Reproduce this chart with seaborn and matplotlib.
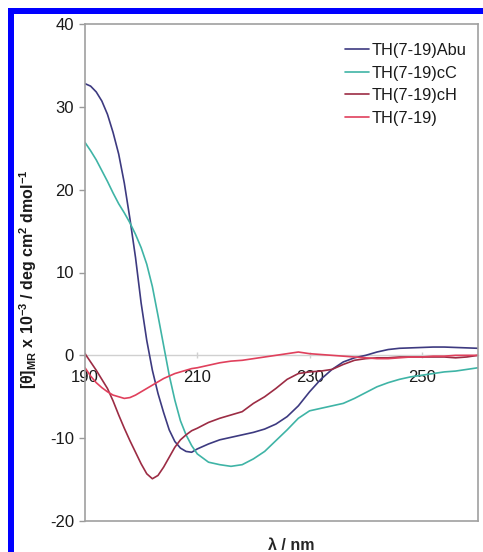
import matplotlib
matplotlib.use("Agg")
import matplotlib.pyplot as plt
import seaborn as sns
import pandas as pd
from matplotlib.patches import Rectangle

# ---- data ----
wavelength = [190, 191, 192, 193, 194, 195, 196, 197, 198, 199, 200, 201, 202, 203, 204, 205, 206, 207,
              208, 209, 210, 212, 214, 216, 218, 220, 222, 224, 226, 228, 230, 232, 234,
              236, 238, 240, 242, 244, 246, 248, 250, 252, 254, 256, 258, 260]

abu = [32.8, 32.5, 31.8, 30.7, 29.1, 26.9, 24.3, 20.8, 16.5, 11.8, 6.3, 1.8, -1.8, -4.6, -6.9, -9.0, -10.4, -11.2,
       -11.6, -11.7, -11.3, -10.7, -10.2, -9.9, -9.6, -9.3, -8.9, -8.3, -7.4, -6.1, -4.4, -2.9, -1.7,
       -0.8, -0.3, 0.0, 0.4, 0.7, 0.85, 0.9, 0.95, 1.0, 1.0, 0.95, 0.9, 0.85]

cc = [25.7, 24.7, 23.6, 22.3, 21.0, 19.6, 18.3, 17.2, 16.0, 14.6, 13.0, 11.0, 8.3, 4.8, 1.2, -2.4, -5.4, -7.9,
      -9.6, -10.9, -11.9, -12.9, -13.2, -13.4, -13.2, -12.5, -11.6, -10.3, -9.0, -7.6, -6.7, -6.4, -6.1,
      -5.8, -5.2, -4.5, -3.8, -3.3, -2.9, -2.6, -2.4, -2.2, -2.0, -1.9, -1.7, -1.5]

ch = [0.2, -0.8, -1.8, -2.9, -4.0, -5.5, -7.2, -8.8, -10.3, -11.7, -13.1, -14.3, -14.9, -14.5, -13.5, -12.3, -11.1, -10.2,
      -9.6, -9.1, -8.8, -8.1, -7.6, -7.2, -6.8, -5.8, -5.0, -4.0, -2.9, -2.2, -2.0, -1.9, -1.7,
      -1.1, -0.6, -0.4, -0.3, -0.3, -0.2, -0.2, -0.2, -0.2, -0.2, -0.3, -0.2, 0.0]

th = [-1.5, -2.5, -3.3, -3.9, -4.4, -4.8, -5.0, -5.2, -5.1, -4.8, -4.4, -4.0, -3.6, -3.2, -2.8, -2.5, -2.2, -2.0,
      -1.8, -1.6, -1.5, -1.2, -0.9, -0.7, -0.6, -0.4, -0.2, 0.0, 0.2, 0.4, 0.2, 0.1, 0.0,
      -0.1, -0.2, -0.3, -0.4, -0.4, -0.3, -0.2, -0.2, -0.1, -0.1, 0.0, 0.0, 0.0]

series_names = ["TH(7-19)Abu", "TH(7-19)cC", "TH(7-19)cH", "TH(7-19)"]
series_values = [abu, cc, ch, th]
colors = ["#3d3a80", "#3fb4a6", "#9c2c44", "#e0405c"]

x_ticks = [190, 210, 230, 250]
y_ticks = [-20, -10, 0, 10, 20, 30, 40]

rows = []
for name, vals in zip(series_names, series_values):
    for w, v in zip(wavelength, vals):
        rows.append({"wl": w, "val": v, "series": name})
df = pd.DataFrame(rows)

# ---- figure ----
sns.set_style("white")
plt.rcParams["font.family"] = ["Liberation Sans", "DejaVu Sans"]
plt.rcParams["mathtext.fontset"] = "custom"
plt.rcParams["mathtext.rm"] = "Liberation Sans"
plt.rcParams["mathtext.bf"] = "Liberation Sans:bold"
plt.rcParams["mathtext.it"] = "Liberation Sans:italic"

W, H = 483, 552
fig = plt.figure(figsize=(W / 100, H / 100), dpi=100)
fig.patch.set_facecolor("white")

def px(x0, y0, x1, y1):
    return [x0 / W, 1 - y1 / H, (x1 - x0) / W, (y1 - y0) / H]

ax = fig.add_axes(px(85, 24, 478, 521))

sns.lineplot(data=df, x="wl", y="val", hue="series", hue_order=series_names,
             palette=colors, ax=ax, linewidth=1.2, estimator=None, sort=True)

ax.set_xlim(190, 260)
ax.set_ylim(-20, 40)
ax.set_yticks(y_ticks)
ax.set_yticklabels([str(t) for t in y_ticks])
ax.tick_params(axis="y", direction="out", length=4, width=1, color="#9a9a9a",
               labelsize=12, pad=4, left=True, labelcolor="#1a1a1a")
ax.set_xticks([])
ax.set_ylabel("")
ax.set_xlabel("")

for s in ax.spines.values():
    s.set_color("#a0a0a0")
    s.set_linewidth(1.2)

# Excel-style category axis at y=0
sec = ax.secondary_xaxis(1 / 3)
sec.set_xticks(x_ticks)
sec.set_xticklabels([str(t) for t in x_ticks])
sec.spines["bottom"].set_color("#d0d0d0")
sec.spines["bottom"].set_linewidth(1.0)
sec.tick_params(axis="x", direction="inout", length=5, width=1, color="#d0d0d0",
                labelsize=12, pad=8, labelcolor="#1a1a1a")

# axis titles
ax.set_xlabel("λ / nm", fontsize=11.5, fontweight="bold")
ax.xaxis.set_label_coords((291 - 85) / 393, -(538 - 521) / 497)
fig.text(28 / W, 1 - 279 / H,
         r"[θ]$_{\mathbf{MR}}$ x 10$^{\mathbf{-3}}$ / deg cm$^{\mathbf{2}}$ dmol$^{\mathbf{-1}}$",
         rotation=90, ha="center", va="center", fontsize=11.5, fontweight="bold",
         color="#1a1a1a")

# legend
handles, labels = ax.get_legend_handles_labels()
leg = ax.legend(handles, labels, loc="upper left", bbox_to_anchor=(345 / W, 1 - 43 / H),
                bbox_transform=fig.transFigure, frameon=False, fontsize=11.8,
                handlelength=1.45, handletextpad=0.2, labelspacing=0.46, borderpad=0,
                borderaxespad=0)
for t in leg.get_texts():
    t.set_color("#1a1a1a")

# blue frame (left and top)
fig.patches.append(Rectangle((8 / W, 0), 6 / W, 1 - 8 / H, transform=fig.transFigure,
                             facecolor="#0000ff", edgecolor="none", zorder=10))
fig.patches.append(Rectangle((8 / W, 1 - 14 / H), 1 - 8 / W, 6 / H, transform=fig.transFigure,
                             facecolor="#0000ff", edgecolor="none", zorder=10))

fig.savefig("out.png", dpi=100)
